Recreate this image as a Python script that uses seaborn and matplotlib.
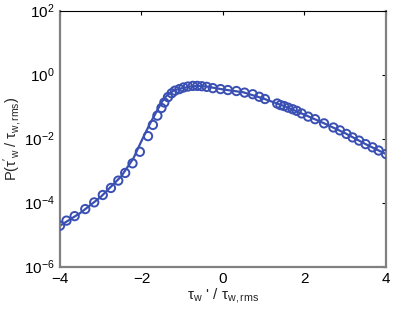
import numpy as np
import pandas as pd
import seaborn as sns
import matplotlib
matplotlib.use("Agg")
import matplotlib.pyplot as plt

# circles, y stored as log10 of P
circ_x = [-4.0, -3.84, -3.64, -3.38, -3.16, -2.95, -2.75, -2.57, -2.40, -2.22,
          -2.04, -1.84, -1.72, -1.61, -1.51, -1.44, -1.35, -1.26, -1.18, -1.07,
          -0.97, -0.86, -0.74, -0.63, -0.52, -0.40, -0.25, -0.06, 0.12, 0.33,
          0.53, 0.73, 0.89, 1.03, 1.33, 1.41, 1.50, 1.60, 1.71, 1.81,
          1.93, 2.09, 2.26, 2.48, 2.71, 2.87, 3.03, 3.18, 3.34, 3.50,
          3.67, 3.82, 4.0]
circ_logp = [-4.72, -4.56, -4.42, -4.20, -3.99, -3.76, -3.54, -3.31, -3.07, -2.77,
             -2.41, -1.92, -1.57, -1.28, -1.04, -0.87, -0.70, -0.58, -0.50, -0.45,
             -0.40, -0.37, -0.35, -0.35, -0.36, -0.38, -0.42, -0.45, -0.48, -0.51,
             -0.56, -0.61, -0.69, -0.76, -0.90, -0.95, -0.98, -1.03, -1.08, -1.13,
             -1.21, -1.31, -1.39, -1.52, -1.65, -1.74, -1.85, -1.96, -2.06, -2.17,
             -2.27, -2.37, -2.48]

# solid line
line_x = [-4.0, -3.5, -3.0, -2.5, -2.2, -2.0, -1.8, -1.6, -1.5, -1.4, -1.3,
          -1.2, -1.0, -0.8, -0.6, -0.4, 0.0, 0.5, 1.0, 1.5, 2.0, 2.5, 3.0, 3.5, 4.0]
line_logp = [-4.72, -4.32, -3.82, -3.18, -2.62, -2.07, -1.55, -1.08, -0.85, -0.68, -0.57,
             -0.49, -0.42, -0.37, -0.35, -0.37, -0.46, -0.55, -0.75, -0.98, -1.25,
             -1.53, -1.83, -2.17, -2.48]

xticks = [-4, -2, 0, 2, 4]
yticks = [1e-6, 1e-4, 1e-2, 1e0, 1e2]

blue = "#3a4fb2"

circ = pd.DataFrame({"x": circ_x, "p": 10 ** np.array(circ_logp)})
line = pd.DataFrame({"x": line_x, "p": 10 ** np.array(line_logp)})

sns.set_style("white")
plt.rcParams["font.family"] = ["Liberation Sans", "DejaVu Sans"]
plt.rcParams["mathtext.fontset"] = "custom"
plt.rcParams["mathtext.rm"] = "Liberation Sans"
plt.rcParams["mathtext.it"] = "Liberation Sans"
plt.rcParams["mathtext.default"] = "regular"

fig = plt.figure(figsize=(4.07, 3.10), dpi=100)
ax = fig.add_axes([0.1474, 0.1397, 0.801, 0.8258])

sns.lineplot(data=line, x="x", y="p", color=blue, linewidth=1.6, ax=ax)
sns.scatterplot(data=circ, x="x", y="p", marker="o", s=36, fc="none",
                ec=blue, linewidth=1.4, ax=ax, zorder=3)

ax.set_yscale("log")
ax.set_xlim(-4, 4)
ax.set_ylim(1e-6, 1e2)
ax.set_xticks(xticks)
ax.set_yticks(yticks)
ax.minorticks_off()
ax.set_xticklabels(["\u22124", "\u22122", "0", "2", "4"])
ax.tick_params(direction="in", length=3, width=0.8, labelsize=11, color="black",
               right=True, top=True, labelcolor="black", pad=4)

for s in ["left", "right", "bottom"]:
    ax.spines[s].set_color("#808080")
    ax.spines[s].set_linewidth(1.6)
ax.spines["top"].set_color("black")
ax.spines["top"].set_linewidth(0.8)

ax.set_xlabel(r"$\tau_w$ ' / $\tau_{w,rms}$", fontsize=11, labelpad=0)
ax.set_ylabel(r"P($\tau'_w$ / $\tau_{w,rms}$)", fontsize=10.5, labelpad=0)

fig.savefig("out.png", dpi=100)
